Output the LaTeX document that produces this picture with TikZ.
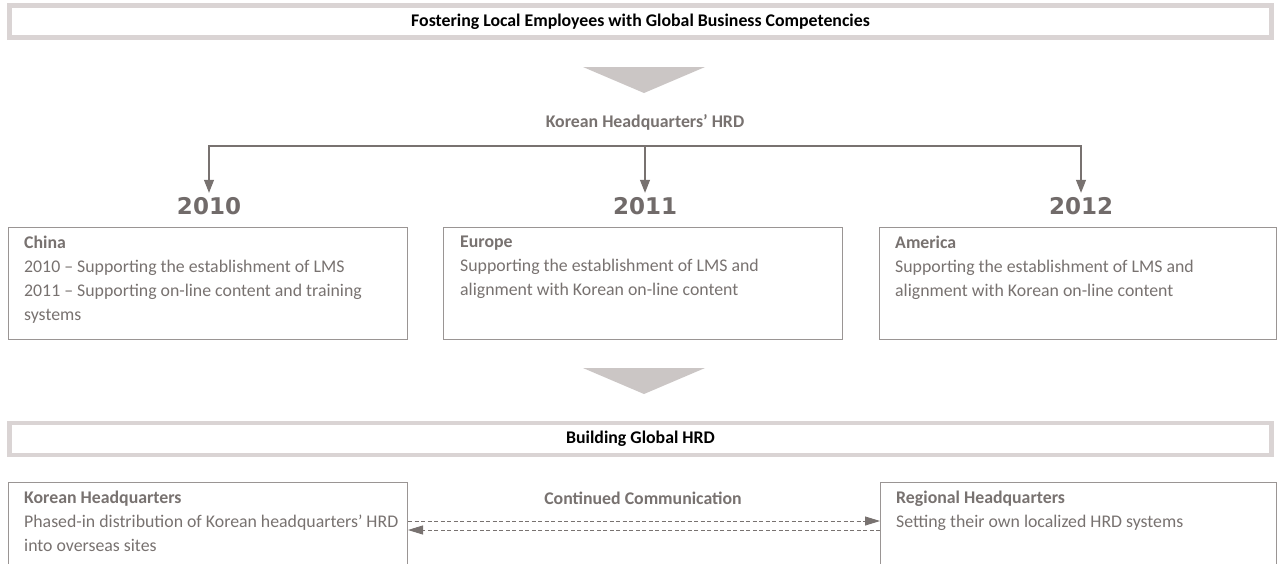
\documentclass[tikz,border=0pt]{standalone}
\usepackage{fontspec}
\setmainfont{Carlito}
\newfontfamily\yearfont{DejaVu Sans}
\usetikzlibrary{arrows.meta}
\definecolor{band}{HTML}{DAD4D4}
\definecolor{tri}{HTML}{CBC6C5}
\definecolor{gtext}{HTML}{787270}
\definecolor{yeart}{HTML}{716B6A}
\definecolor{boxline}{HTML}{9A9594}
\definecolor{arrowc}{HTML}{787270}
\begin{document}
\begin{tikzpicture}[x=1pt,y=-1pt,
  banner/.style={draw=band, line width=4.5pt, minimum width=1262pt, minimum height=32pt, inner sep=0pt, font=\bfseries\fontsize{17.8}{20}\selectfont, text=black},
  infobox/.style={draw=boxline, line width=1pt, anchor=north west, inner sep=0pt},
  txt/.style={anchor=north west, inner sep=0pt, align=left, text=gtext, font=\fontsize{17.8}{24}\selectfont},
  gbold/.style={inner sep=0pt, text=gtext, font=\bfseries\fontsize{17.8}{20}\selectfont},
  yearlbl/.style={inner sep=0pt, outer sep=5pt, text=yeart, font=\yearfont\bfseries\fontsize{23}{23}\selectfont},
  conn/.style={draw=arrowc, line width=1.1pt, -{Triangle[length=13pt,width=10pt]}},
  dconn/.style={draw=arrowc, line width=0.9pt, dash pattern=on 4pt off 2.5pt, -{Triangle[length=15pt,width=9pt]}},
  chev/.style={fill=tri}
]
\useasboundingbox[fill=white] (0,0) rectangle (1281,563);

% top banner
\node[banner] (b1) at (640.5,21.5) {Fostering Local Employees with Global Business Competencies};
\fill[chev] (583,67) -- (705,67) -- (644,93) -- cycle;
\node[gbold] (hqhrd) at (645,122) {Korean Headquarters’ HRD};

% years
\node[yearlbl] (y2010) at (209,206.5) {2010};
\node[yearlbl] (y2011) at (645,206.5) {2011};
\node[yearlbl] (y2012) at (1081,206.5) {2012};
\coordinate (split) at (645,146);
\draw[conn] (split) -| (y2010.north);
\draw[conn] (split) -- (y2011.north);
\draw[conn] (split) -| (y2012.north);

% region boxes
\node[infobox, minimum width=399pt, minimum height=112pt] (china) at (8,227) {};
\node[infobox, minimum width=399pt, minimum height=112pt] (europe) at (443,227) {};
\node[infobox, minimum width=397pt, minimum height=112pt] (america) at (879,227) {};
\node[txt] (chinat) at ([shift={(16,9)}]china.north west) {{\bfseries China}\\2010 – Supporting the establishment of LMS\\2011 – Supporting on-line content and training\\systems};
\node[txt] (europet) at ([shift={(17,9)}]europe.north west) {{\bfseries Europe}\\Supporting the establishment of LMS and\\alignment with Korean on-line content};
\node[txt] (americat) at ([shift={(16,9)}]america.north west) {{\bfseries America}\\Supporting the establishment of LMS and\\alignment with Korean on-line content};

% second stage
\fill[chev] (583,368) -- (705,368) -- (644,394) -- cycle;
\node[banner] (b2) at (640.5,439) {Building Global HRD};

\begin{scope}
\clip (0,0) rectangle (1281,563);
\node[infobox, minimum width=399pt, minimum height=110pt] (khq) at (8,482) {};
\node[infobox, minimum width=396pt, minimum height=110pt] (rhq) at (880,482) {};
\end{scope}
\node[txt] (khqt) at ([shift={(16,9)}]khq.north west) {{\bfseries Korean Headquarters}\\Phased-in distribution of Korean headquarters’ HRD\\into overseas sites};
\node[txt] (rhqt) at ([shift={(16,9)}]rhq.north west) {{\bfseries Regional Headquarters}\\Setting their own localized HRD systems};
\node[gbold] (cc) at (643,498) {Continued Communication};
\coordinate (r1) at (0,521);
\coordinate (r2) at (0,530);
\draw[dconn] (khq.east |- r1) -- (rhq.west |- r1);
\draw[dconn] (rhq.west |- r2) -- (khq.east |- r2);
\end{tikzpicture}
\end{document}
